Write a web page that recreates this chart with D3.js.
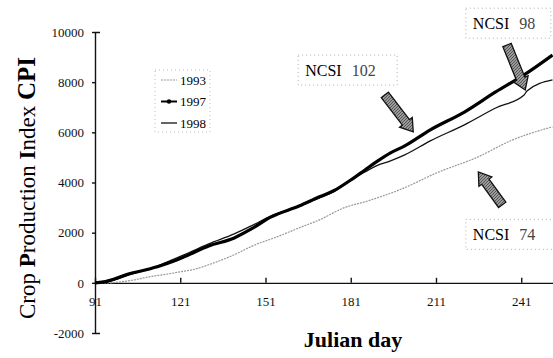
<!DOCTYPE html>
<html>
<head>
<meta charset="utf-8">
<script src="https://cdn.jsdelivr.net/npm/d3@7"></script>
<style>
  body { margin: 0; background: #fff; }
  svg { display: block; }
  svg text { font-family: "Liberation Serif", "Times New Roman", serif; }
</style>
</head>
<body>
<svg id="chart"></svg>
<script>
// Crop Production Index vs Julian day

const days1997 = [91, 94, 98, 103, 109, 114, 119, 124, 131, 140, 146, 153, 163, 170, 175, 181, 186, 190, 195, 200, 209, 221, 232, 242, 252];
const cpi1997  = [0, 40, 160, 360, 520, 680, 880, 1120, 1470, 1790, 2150, 2630, 3070, 3430, 3670, 4100, 4500, 4820, 5180, 5460, 6100, 6810, 7610, 8290, 9080];

const days1998 = [91, 94, 98, 103, 109, 114, 119, 124, 131, 140, 146, 153, 163, 170, 175, 181, 186, 190, 195, 200, 209, 221, 232, 242, 243, 252];
const cpi1998  = [0, 0, 120, 320, 520, 720, 960, 1200, 1550, 1950, 2270, 2670, 3070, 3390, 3630, 4100, 4420, 4660, 4860, 5100, 5660, 6300, 6970, 7490, 7650, 8090];

const days1993 = [91, 96, 100, 105, 110, 116, 121, 126, 131, 140, 147, 155, 163, 170, 178, 188, 198, 212, 225, 238, 252];
const cpi1993  = [0, 0, 40, 120, 240, 340, 440, 540, 720, 1120, 1500, 1830, 2200, 2510, 2960, 3300, 3700, 4420, 4980, 5700, 6220];

const xTicks = [91, 121, 151, 181, 211, 241];
const yTicks = [-2000, 0, 2000, 4000, 6000, 8000, 10000];

const legendYears = ["1993", "1997", "1998"];

// annotation labels and their arrows (tail -> tip), in data units
const noteLabels = ["NCSI  102", "NCSI  98", "NCSI  74"];
const noteBoxDay = [162.5, 221.5, 221.5];
const noteBoxCpi = [9080, 10950, 2530];
const arrowTail = [[193, 7490], [236, 9480], [234.3, 3110]];
const arrowTip  = [[203, 6020], [242.4, 7690], [225.9, 4420]];

const w = 553, h = 358;
const svg = d3.select("#chart").attr("width", w).attr("height", h);

const x = d3.scaleLinear().domain([91, 252]).range([95, 552.5]);
const y = d3.scaleLinear().domain([-2000, 10000]).range([333, 32]);

// y axis
svg.append("g")
    .attr("transform", "translate(95,0)")
    .call(d3.axisLeft(y).tickValues(yTicks).tickSize(3).tickSizeOuter(-5).tickPadding(8).tickFormat(d => String(d)))
    .call(g => g.selectAll("text").style("font-size", "13px").attr("fill", "#111"))
    .call(g => g.selectAll("path,line").attr("stroke", "#111").attr("stroke-width", 1.4));

// x axis on zero line
svg.append("g")
    .attr("transform", `translate(0,${y(0)})`)
    .call(d3.axisBottom(x).tickValues(xTicks).tickSize(-5).tickSizeOuter(0).tickPadding(14))
    .call(g => g.selectAll("text").style("font-size", "13px").attr("fill", "#111"))
    .call(g => g.selectAll("path,line").attr("stroke", "#111").attr("stroke-width", 1.4));

// axis titles
svg.append("text")
    .attr("x", 353).attr("y", 347)
    .attr("text-anchor", "middle")
    .style("font-size", "22px").style("font-weight", "bold")
    .text("Julian day");

const yt = svg.append("text")
    .attr("transform", "translate(35,188) rotate(-90)")
    .attr("text-anchor", "middle")
    .style("font-size", "23px");
yt.append("tspan").text("Crop ");
yt.append("tspan").text("P").style("font-weight", "bold");
yt.append("tspan").text("roduction ");
yt.append("tspan").text("I").style("font-weight", "bold");
yt.append("tspan").text("ndex ");
yt.append("tspan").text("CPI").style("font-weight", "bold").style("font-size", "25px");

// lines
const line = d3.line().x(d => x(d[0])).y(d => y(d[1])).curve(d3.curveMonotoneX);

svg.append("path")
    .attr("d", line(d3.zip(days1993, cpi1993)))
    .attr("fill", "none").attr("stroke", "#999").attr("stroke-width", 1.2)
    .attr("stroke-dasharray", "2,1");

svg.append("path")
    .attr("d", line(d3.zip(days1998, cpi1998)))
    .attr("fill", "none").attr("stroke", "#111").attr("stroke-width", 1.3);

svg.append("path")
    .attr("d", line(d3.zip(days1997, cpi1997)))
    .attr("fill", "none").attr("stroke", "#000").attr("stroke-width", 3.2);

// legend
svg.append("rect")
    .attr("x", 155).attr("y", 70).attr("width", 55).attr("height", 62)
    .attr("fill", "none").attr("stroke", "#aaa").attr("stroke-width", 0.8)
    .attr("stroke-dasharray", "1,3");

legendYears.forEach((yr, i) => {
    const ly = 80 + i * 21.5;
    const ln = svg.append("line")
        .attr("x1", 161).attr("x2", 177).attr("y1", ly).attr("y2", ly);
    if (i === 0) {
        ln.attr("stroke", "#999").attr("stroke-width", 1.2).attr("stroke-dasharray", "2,1");
    } else if (i === 1) {
        ln.attr("stroke", "#000").attr("stroke-width", 2);
        svg.append("circle").attr("cx", 169).attr("cy", ly).attr("r", 2.2).attr("fill", "#000");
    } else {
        ln.attr("stroke", "#111").attr("stroke-width", 1.3);
    }
    svg.append("text")
        .attr("x", 180).attr("y", ly + 4.5)
        .style("font-size", "13px")
        .text(yr);
});

// annotations
const boxW = [99, 85, 94];
noteLabels.forEach((lbl, i) => {
    const bx = x(noteBoxDay[i]), by = y(noteBoxCpi[i]);
    svg.append("rect")
        .attr("x", bx).attr("y", by).attr("width", boxW[i]).attr("height", 30)
        .attr("fill", "#fff").attr("stroke", "#999").attr("stroke-width", 0.8)
        .attr("stroke-dasharray", "1,3");
    const parts = lbl.split("  ");
    const t = svg.append("text")
        .attr("x", bx + 7).attr("y", by + 21)
        .style("font-size", "16px");
    t.append("tspan").text(parts[0] + " ");
    t.append("tspan").attr("dx", 6).attr("fill", "#444").text(parts[1]);
});

// block arrows
function arrowPath(x0, y0, x1, y1) {
    const dx = x1 - x0, dy = y1 - y0, len = Math.hypot(dx, dy);
    const ux = dx / len, uy = dy / len, px = -uy, py = ux;
    const sw = 4.5, hw = 8, hl = 12;
    const bx = x1 - ux * hl, by = y1 - uy * hl;
    const pts = [
        [x0 + px * sw, y0 + py * sw],
        [bx + px * sw, by + py * sw],
        [bx + px * hw, by + py * hw],
        [x1, y1],
        [bx - px * hw, by - py * hw],
        [bx - px * sw, by - py * sw],
        [x0 - px * sw, y0 - py * sw]
    ];
    return "M" + pts.map(p => p.join(",")).join("L") + "Z";
}

const defs = svg.append("defs");
const pat = defs.append("pattern")
    .attr("id", "hatch").attr("width", 3).attr("height", 3)
    .attr("patternUnits", "userSpaceOnUse");
pat.append("rect").attr("width", 3).attr("height", 3).attr("fill", "#9a9a9a");
pat.append("path").attr("d", "M0,3L3,0").attr("stroke", "#444").attr("stroke-width", 0.8);

arrowTail.forEach((tail, i) => {
    const tip = arrowTip[i];
    svg.append("path")
        .attr("d", arrowPath(x(tail[0]), y(tail[1]), x(tip[0]), y(tip[1])))
        .attr("fill", "url(#hatch)")
        .attr("stroke", "#111").attr("stroke-width", 1.3);
});
</script>
</body>
</html>
